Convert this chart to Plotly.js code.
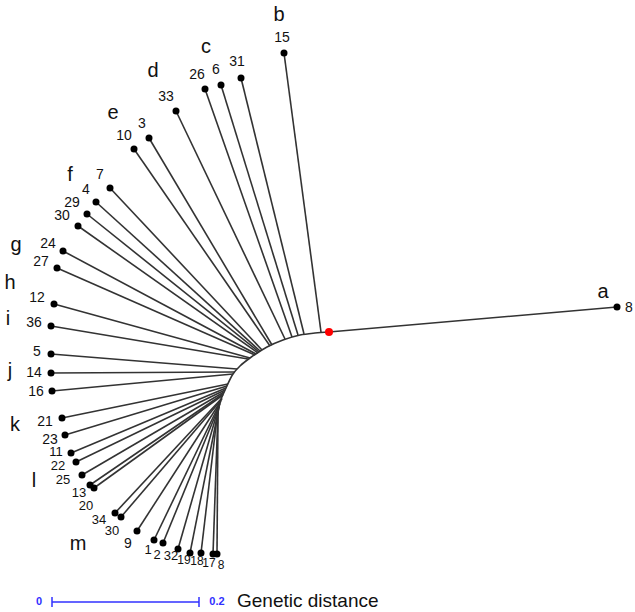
<!DOCTYPE html>
<html>
<head>
<meta charset="utf-8">
<script src="https://cdn.plot.ly/plotly-3.0.1.min.js"></script>
<style>html,body{margin:0;padding:0;background:#fff;}#chart{width:635px;height:612px;}</style>
</head>
<body>
<div id="chart"></div>
<script>
// Leaf tips (sample numbers), their tip positions and where they join the backbone arc
const leafLabels = ["8","15","31","6","26","33","3","10","7","4","29","30","24","27","12","36","5","14","16","21","23","11","22","25","13","20","34","30","9","1","2","32","19","18","17","8"];
const leafX = [617,284,241,221,205,176,149,134,110,96,87,78,63,57,54,51,51,51,52,62,65,71,76,82,90,94,115,121,137,154,163,178,190,201,213,217];
const leafY = [307,53,78,85,89,111,138,149,188,202,214,226,251,268,304,326,354,373,391,418,435,453,462,475,485,488,513,517,531,540,543,549,553,553,554,554];
const joinX = [329,321,304,298,292,285,272,270,262,260,259,258,256,255,250,248,237,235,233,228,227,226,225,224,223,223,222,222,221,220,220,219,219,218,218,218];
const joinY = [332,332,334,335,337,339,345,346,350,351,352,353,354,355,358,359,369,372,374,384,386,388,390,392,394,395,398,399,401,403,404,406,407,409,411,412];
const labelX = [629,282,237,216,197,166,142,124,100,86,72,62,48,41,37,34,37,34,36,45,50,56,58,63,79,86,99,112,128,148,157,171,184,197,209,221];
const labelY = [308,38,62,70,75,97,124,136,175,190,203,216,244,262,298,323,352,373,392,422,440,453,467,481,494,507,521,532,544,551,556,557,561,562,564,566];
const labelSize = [14,14,14,14,14,14,14,14,14,14,14,14,14,14,14,14,14,14,14,14,14,13,13,13,13,13,13,13,14,13,13,13,12,12,12,12];

// Backbone arc from the root leftwards and down
const arcX = [329,315,300,283,267,250,240,233,226,220,218];
const arcY = [332,333,335,340,347,358,366,374,388,402,412];
const rootX = [329], rootY = [332];

// Cluster letters
const groupLabels = ["a","b","c","d","e","f","g","h","i","j","k","l","m"];
const groupX = [603,279,206,153,113,70,16,10,8,10,15,34,78];
const groupY = [293,16,48,72,114,176,246,284,320,372,426,482,545];

// Scale bar
const scaleTicks = ["0","0.2"];
const scaleValues = [0,0.2];

const px = (v) => 52 + (199-52) * v / 0.2;

const bx = [], by = [];
for (let i = 0; i < leafLabels.length; i++) {
  bx.push(joinX[i], leafX[i], null);
  by.push(joinY[i], leafY[i], null);
}

const traces = [
  {x: arcX, y: arcY, mode: 'lines', line: {color: '#333', width: 1.6, shape: 'spline'}, hoverinfo: 'skip'},
  {x: bx, y: by, mode: 'lines', line: {color: '#333', width: 1.6}, hoverinfo: 'skip'},
  {x: leafX, y: leafY, mode: 'markers', marker: {color: '#000', size: 7}, hoverinfo: 'skip'},
  {x: rootX, y: rootY, mode: 'markers', marker: {color: '#ff0000', size: 8}, hoverinfo: 'skip'},
  {x: labelX, y: labelY, mode: 'text', text: leafLabels, textposition: 'middle center',
   textfont: {family: 'Liberation Sans, Arial, sans-serif', size: labelSize, color: '#111'}, hoverinfo: 'skip'},
  {x: groupX, y: groupY, mode: 'text', text: groupLabels, textposition: 'middle center',
   textfont: {family: 'Liberation Sans, Arial, sans-serif', size: 20, color: '#111'}, hoverinfo: 'skip'},
  // scale bar
  {x: scaleValues.map(px), y: [602,602], mode: 'lines', line: {color: '#3030ff', width: 1.5}, hoverinfo: 'skip'},
  {x: [px(0), px(0), null, px(0.2), px(0.2)], y: [597,607,null,597,607], mode: 'lines', line: {color: '#3030ff', width: 1.5}, hoverinfo: 'skip'},
  {x: [px(0)-13, px(0.2)+18], y: [602,602], mode: 'text', text: scaleTicks, textposition: 'middle center',
   textfont: {family: 'Liberation Sans, Arial, sans-serif', size: 11, color: '#3030ff', weight: 'bold'}, hoverinfo: 'skip'},
  {x: [237], y: [602], mode: 'text', text: ['Genetic distance'], textposition: 'middle right',
   textfont: {family: 'Liberation Sans, Arial, sans-serif', size: 19, color: '#111'}, hoverinfo: 'skip'}
];

const layout = {
  width: 635, height: 612,
  margin: {l: 0, r: 0, t: 0, b: 0},
  paper_bgcolor: '#fff', plot_bgcolor: '#fff',
  showlegend: false,
  xaxis: {range: [0, 635], visible: false, fixedrange: true},
  yaxis: {range: [612, 0], visible: false, fixedrange: true}
};

Plotly.newPlot('chart', traces, layout, {displayModeBar: false, staticPlot: true});
</script>
</body>
</html>
